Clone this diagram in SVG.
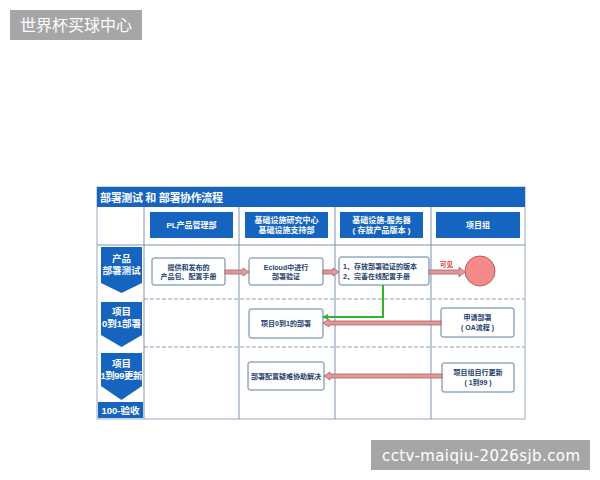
<svg xmlns="http://www.w3.org/2000/svg" width="600" height="480" viewBox="0 0 600 480">
<style>
.cjk{font-family:"Liberation Sans","Noto Sans CJK SC",sans-serif}
.hdr{fill:#1565c0}
.hdrt{fill:#fff;font-size:8px;font-weight:bold;text-anchor:middle}
.chev{fill:#1565c0}
.chevt{fill:#fff;font-size:9.5px;font-weight:bold;text-anchor:middle}
.box{fill:#fff;stroke:#5f7fa3;stroke-width:1}
.boxt{fill:#23406e;font-size:7px;font-weight:bold;text-anchor:middle}
.grid{stroke:#7d92ad;stroke-width:1;fill:none}
.dash{stroke:#8c9bb0;stroke-width:1;stroke-dasharray:4 2;fill:none}
.parr{fill:#dd9a9a;stroke:#b85a5a;stroke-width:0.8}
</style>
<defs>
<marker id="gh" markerWidth="6" markerHeight="6" refX="5" refY="3" orient="auto" markerUnits="userSpaceOnUse">
<path d="M0,0 L6,3 L0,6 z" fill="#2db52d"/>
</marker>
</defs>
<rect width="600" height="480" fill="#fff"/>
<g id="wm1">
<rect x="10" y="10" width="132" height="30" fill="#a6a6a6"/>
<text x="20" y="31" class="cjk" font-size="16" fill="#fff">世界杯买球中心</text>
</g>
<g id="wm2">
<rect x="371" y="440" width="219" height="30" fill="#a6a6a6"/>
<text x="382" y="461" font-family="DejaVu Sans,sans-serif" font-size="15" fill="#fff" textLength="198">cctv-maiqiu-2026sjb.com</text>
</g>
<g id="table">
<rect x="97" y="187" width="428" height="232" fill="#fff" stroke="#9aabbf"/>
<rect x="97" y="187" width="428" height="20" fill="#1565c0"/>
<text x="100" y="201.5" class="cjk" font-size="11" font-weight="bold" fill="#fff" textLength="123">部署测试 和 部署协作流程</text>
<line class="grid" x1="97" y1="245" x2="525" y2="245"/>
<line class="grid" x1="144" y1="207" x2="144" y2="419"/>
<line class="grid" x1="239" y1="207" x2="239" y2="419"/>
<line class="grid" x1="335" y1="207" x2="335" y2="419"/>
<line class="grid" x1="431" y1="207" x2="431" y2="419"/>
<line class="dash" x1="144" y1="299" x2="525" y2="299"/>
<line class="dash" x1="144" y1="347" x2="525" y2="347"/>
</g>
<g id="h1"><rect class="hdr" x="150" y="212" width="83" height="26"/><text class="cjk hdrt" x="191.5" y="228">PL产品管理部</text></g>
<g id="h2"><rect class="hdr" x="245" y="212" width="83" height="26"/><text class="cjk hdrt" x="286.5" y="222.5">基础设施研究中心</text><text class="cjk hdrt" x="286.5" y="232.5">基础设施支持部</text></g>
<g id="h3"><rect class="hdr" x="340" y="212" width="83" height="26"/><text class="cjk hdrt" x="381.5" y="222.5">基础设施-服务器</text><text class="cjk hdrt" x="381.5" y="232.5">( 存放产品版本 )</text></g>
<g id="h4"><rect class="hdr" x="436" y="212" width="84" height="26"/><text class="cjk hdrt" x="478" y="228">项目组</text></g>
<g id="r1"><path class="chev" d="M101,247 H142 V283 L121.5,293 L101,283 Z"/><text class="cjk chevt" x="121.5" y="262">产品</text><text class="cjk chevt" x="121.5" y="274">部署测试</text></g>
<g id="r2"><path class="chev" d="M101,302 H142 V335 L121.5,347 L101,335 Z"/><text class="cjk chevt" x="121.5" y="315">项目</text><text class="cjk chevt" x="121.5" y="327">0到1部署</text></g>
<g id="r3"><path class="chev" d="M101,353 H142 V386 L121.5,400 L101,386 Z"/><text class="cjk chevt" x="121.5" y="367">项目</text><text class="cjk chevt" x="100.5" y="379" style="text-anchor:start" textLength="42">1到99更新</text></g>
<g id="r4"><rect class="chev" x="98" y="402" width="45" height="16"/><text class="cjk chevt" x="120.5" y="413.5">100-验收</text></g>
<g id="n1"><rect class="box" x="152" y="258" width="73" height="27" rx="2"/><text class="cjk boxt" x="188.5" y="269.5">提供和发布的</text><text class="cjk boxt" x="188.5" y="278.5">产品包、配置手册</text></g>
<g id="n2"><rect class="box" x="249" y="258" width="74" height="27" rx="2"/><text class="cjk boxt" x="286" y="269.5">Ecloud中进行</text><text class="cjk boxt" x="286" y="278.5">部署验证</text></g>
<g id="n3"><rect class="box" x="339" y="257" width="90" height="28" rx="2"/><text class="cjk boxt" x="343" y="269" style="text-anchor:start">1、存放部署验证的版本</text><text class="cjk boxt" x="343" y="278.5" style="text-anchor:start">2、完善在线配置手册</text></g>
<g id="n4"><circle cx="480" cy="271" r="15" fill="#f58a8a" stroke="#c05a5a" stroke-width="1"/></g>
<g id="n5"><rect class="box" x="249" y="309" width="74" height="29" rx="2"/><text class="cjk boxt" x="286" y="326">项目0到1的部署</text></g>
<g id="n6"><rect class="box" x="441" y="308" width="73" height="29" rx="2"/><text class="cjk boxt" x="477.5" y="320">申请部署</text><text class="cjk boxt" x="477.5" y="330">( OA流程 )</text></g>
<g id="n7"><rect class="box" x="248" y="362" width="76" height="28" rx="2"/><text class="cjk boxt" x="286" y="378.5">部署配置疑难协助解决</text></g>
<g id="n8"><rect class="box" x="442" y="363" width="72" height="29" rx="2"/><text class="cjk boxt" x="478" y="375">项目组自行更新</text><text class="cjk boxt" x="478" y="385">( 1到99 )</text></g>
<g id="connectors">
<polygon class="parr" points="225,270 243,270 243,268 249,272 243,276 243,274 225,274"/>
<polygon class="parr" points="323,270 333,270 333,268 339,272 333,276 333,274 323,274"/>
<polygon class="parr" points="429,270 459,270 459,267 465,272 459,277 459,274 429,274"/>
<text x="440" y="267" class="cjk" font-size="6.5" font-weight="bold" fill="#e03030">可见</text>
<polyline points="383,285 383,317 323,317" fill="none" stroke="#2db52d" stroke-width="2" marker-end="url(#gh)"/>
<polygon class="parr" points="441,321 329,321 329,319 323,323 329,327 329,325 441,325"/>
<polygon class="parr" points="442,374 330,374 330,372 324,376 330,380 330,378 442,378"/>
</g>
</svg>
